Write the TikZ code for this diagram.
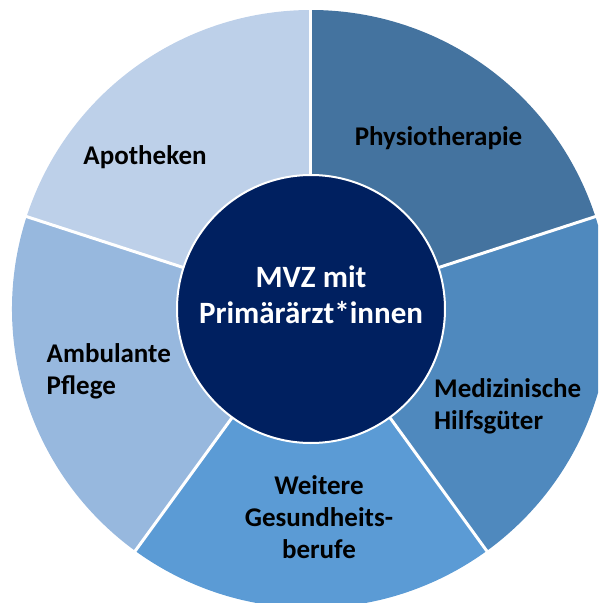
\documentclass[tikz,border=0pt]{standalone}
\usepackage{fontspec}
\setmainfont{Carlito}
\usetikzlibrary{positioning}

\definecolor{hubblue}{HTML}{002060}
\definecolor{apoblue}{HTML}{BDD0E9}
\definecolor{physblue}{HTML}{44739F}
\definecolor{medblue}{HTML}{4F89BE}
\definecolor{gesblue}{HTML}{5B9BD5}
\definecolor{pflblue}{HTML}{97B8DE}

\tikzset{
    gap/.style={
           draw=white,
           line width=3pt,
           },
    hub/.style={
           circle,
           fill=hubblue,
           draw=white,
           line width=2pt,
           minimum size=268pt,
           inner sep=0pt,
           },
    field/.style={
           font=\bfseries\fontsize{27}{32}\selectfont,
           text=black,
           inner sep=0pt,
           },
}

\begin{document}
\begin{tikzpicture}[x=1pt,y=1pt]
 \useasboundingbox (-311,-294) rectangle (287,309);
 \clip (-311,-294) rectangle (287,309);

 % ring of five sectors
 \fill[physblue] (0,0) -- (18:299) arc[start angle=18, end angle=90, radius=299] -- cycle;
 \fill[apoblue] (0,0) -- (90:299) arc[start angle=90, end angle=162, radius=299] -- cycle;
 \fill[pflblue] (0,0) -- (162:299) arc[start angle=162, end angle=234, radius=299] -- cycle;
 \fill[gesblue] (0,0) -- (234:299) arc[start angle=234, end angle=306, radius=299] -- cycle;
 \fill[medblue] (0,0) -- (306:299) arc[start angle=306, end angle=378, radius=299] -- cycle;

 \coordinate (O) at (0,0);
 \foreach \a in {18,90,162,234,306}
   \draw[gap] (O) -- (\a:300);

 \node[hub] (MVZ) at (O) {};
 \node[align=center,
 text=white,
 inner sep=0pt,
 font=\bfseries\fontsize{31}{36}\selectfont,
 ] (MVZTEXT) at (0,14) {MVZ mit\\Primärärzt*innen};

 \node[field] (APO) at (-166,152) {Apotheken};
 \node[field] (PHYS) at (127.5,171) {Physiotherapie};
 \node[field, align=left, anchor=west] (MED) at (123,-97.5)
   {Medizinische\\Hilfsgüter};
 \node[field, align=center] (GES) at (8,-208)
   {Weitere\\Gesundheits-\\berufe};
 \node[field, align=left, anchor=west] (PFL) at (-264.5,-62)
   {Ambulante\\Pflege};
\end{tikzpicture}
\end{document}
